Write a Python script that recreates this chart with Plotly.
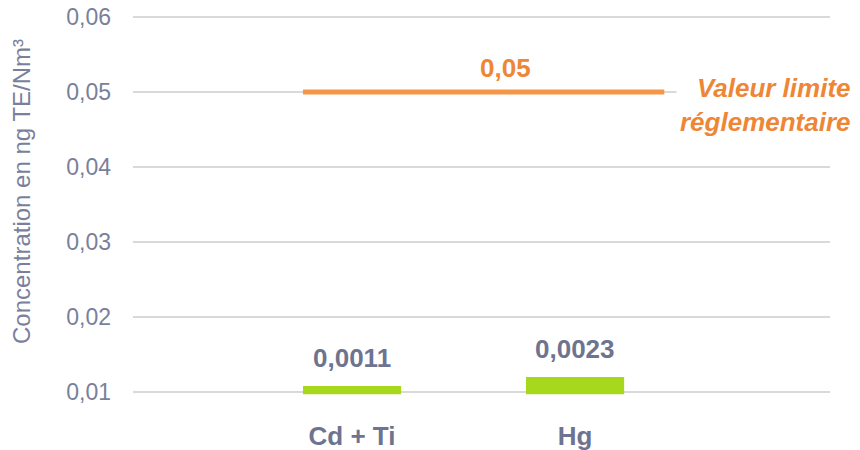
import plotly.graph_objects as go

# Data
categories = ["Cd + Ti", "Hg"]
values = [0.0011, 0.0023]
value_labels = ["0,0011", "0,0023"]
limit_value = 0.05
limit_label = "0,05"
limit_text = "Valeur limite<br>réglementaire"
y_title = "Concentration en ng TE/Nm³"
y_ticks = [0.01, 0.02, 0.03, 0.04, 0.05, 0.06]

cat_pos = [1, 2]
bar_base = 0.0097

TICK_COL = "#7A7F9B"
LABEL_COL = "#6D7391"
GREEN = "#A8D81B"
ORANGE_LINE = "#F79646"
ORANGE_TXT = "#EE8636"
FONT = "Liberation Sans, Arial, sans-serif"

fig = go.Figure()

fig.add_trace(go.Bar(
    x=cat_pos, y=values, base=bar_base, width=0.44,
    marker=dict(color=GREEN, line=dict(width=0)),
    hoverinfo="skip", showlegend=False,
))

fig.add_trace(go.Scatter(
    x=[0.78, 2.40], y=[limit_value, limit_value], mode="lines",
    line=dict(color=ORANGE_LINE, width=5),
    hoverinfo="skip", showlegend=False,
))

annotations = []
for xp, v, t in zip(cat_pos, values, value_labels):
    annotations.append(dict(
        x=xp, y=bar_base + v, xref="x", yref="y", text=t, showarrow=False,
        yanchor="bottom", yshift=11,
        font=dict(family=FONT, size=26, color=LABEL_COL, weight="bold"),
    ))

annotations.append(dict(
    x=1.69, y=limit_value, xref="x", yref="y", text=limit_label, showarrow=False,
    yanchor="bottom", yshift=7,
    font=dict(family=FONT, size=26, color=ORANGE_TXT, weight="bold"),
))
annotations.append(dict(
    x=(855 - 133) / 697, y=limit_value, xref="paper", yref="y",
    text="<i>" + limit_text + "</i>",
    showarrow=False, xanchor="right", yanchor="middle", align="right", yshift=-13,
    bgcolor="white", borderpad=3,
    font=dict(family=FONT, size=26, color=ORANGE_TXT, weight="bold"),
))
annotations.append(dict(
    x=(22 - 133) / 697, y=0.545, xref="paper", yref="paper", text=y_title,
    showarrow=False, textangle=-90, xanchor="center", yanchor="middle",
    font=dict(family=FONT, size=24, color=TICK_COL),
))

fig.update_layout(
    width=860, height=450,
    margin=dict(l=133, r=30, t=10, b=40, autoexpand=False),
    paper_bgcolor="white", plot_bgcolor="white",
    separators=", ",
    annotations=annotations,
    xaxis=dict(
        range=[0.018, 3.143], tickvals=cat_pos, ticktext=categories,
        showgrid=False, zeroline=False, showline=False, ticks="",
        tickfont=dict(family=FONT, size=26, color=LABEL_COL, weight="bold"),
        ticklabelstandoff=8, fixedrange=True,
    ),
    yaxis=dict(
        range=[0.0076, 0.06093], tickvals=y_ticks, tickformat=".2f",
        showgrid=True, gridcolor="#D9D9D9", gridwidth=1.5,
        zeroline=False, showline=False, ticks="",
        tickfont=dict(family=FONT, size=23, color=TICK_COL),
        ticklabelstandoff=21, ticklabeloverflow="allow", fixedrange=True,
    ),
)

fig.write_html(
    "out.html",
    config={"displayModeBar": False, "staticPlot": True},
    post_script="document.body.style.margin='0';document.body.style.overflow='hidden';",
)
